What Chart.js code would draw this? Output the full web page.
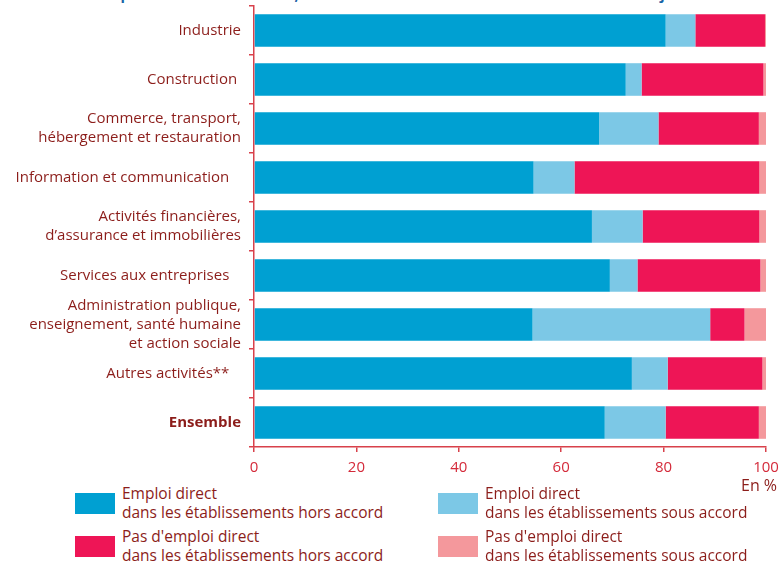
<!DOCTYPE html>
<html lang="fr">
<head>
<meta charset="utf-8">
<title>OETH 2010 par secteur</title>
<script src="https://cdn.jsdelivr.net/npm/chart.js@4/dist/chart.umd.min.js"></script>
<style>
    body { margin: 0; background: #fff; font-family: "Open Sans", sans-serif; }
    #page { position: relative; width: 784px; height: 565px; overflow: hidden; }
    #titre { position: absolute; left: 8px; top: -15px; white-space: nowrap; font-weight: bold; font-size: 14.5px; color: #1a64a6; }
    #zone { position: absolute; left: 0; top: 0; width: 784px; height: 480px; }
    #unite { position: absolute; left: 741px; top: 474px; font-size: 16px; color: #8c1d1a; }
    .leg { position: absolute; font-size: 15.5px; line-height: 19px; color: #8c1d1a; }
    .leg i { position: absolute; left: -47px; top: 9px; width: 40px; height: 21px; }
</style>
</head>
<body>
<div id="page">
    <div id="titre">modalités de réponse à l'OETH en 2010*, selon le secteur d'activité de l'établissement assujetti</div>
    <div id="zone"><canvas id="grafico" width="784" height="480"></canvas></div>
    <div id="unite">En %</div>
    <div class="leg" style="left:122px;top:484px"><i style="background:#00a0d2"></i>Emploi direct<br>dans les établissements hors accord</div>
    <div class="leg" style="left:485px;top:484px"><i style="background:#7cc8e6"></i>Emploi direct<br>dans les établissements sous accord</div>
    <div class="leg" style="left:122px;top:527px"><i style="background:#ee1556"></i>Pas d'emploi direct<br>dans les établissements hors accord</div>
    <div class="leg" style="left:485px;top:527px"><i style="background:#f4989c"></i>Pas d'emploi direct<br>dans les établissements sous accord</div>
</div>
<script>
// secteurs (axe vertical)
const secteurs = [
    "Industrie",
    "Construction ",
    ["Commerce, transport,", "hébergement et restauration"],
    "Information et communication   ",
    ["Activités financières,", "d\u2019assurance et immobilières"],
    "Services aux entreprises   ",
    ["Administration publique,", "enseignement, santé humaine", "et action sociale"],
    "Autres activités**   ",
    "Ensemble"
];
// en %
const directHors = [80.4, 72.6, 67.4, 54.6, 66.0, 69.5, 54.4, 73.8, 68.5];
const directSous = [5.8, 3.1, 11.6, 8.0, 9.9, 5.4, 34.7, 7.0, 11.9];
const pasDirectHors = [13.6, 23.8, 19.6, 36.1, 22.8, 24.0, 6.7, 18.5, 18.2];
const pasDirectSous = [0.2, 0.5, 1.4, 1.3, 1.3, 1.1, 4.2, 0.7, 1.4];
const ticksX = [0, 20, 40, 60, 80, 100];

const rougeAxe = "#d8414b";
const brun = "#8c1d1a";

const ctx = document.getElementById("grafico").getContext("2d");
const serie = (label, data, color) => ({
    label: label, data: data, backgroundColor: color,
    borderWidth: 0, barPercentage: 0.665, categoryPercentage: 1
});

new Chart(ctx, {
    type: "bar",
    data: {
        labels: secteurs,
        datasets: [
            serie("Emploi direct dans les établissements hors accord", directHors, "#00a0d2"),
            serie("Emploi direct dans les établissements sous accord", directSous, "#7cc8e6"),
            serie("Pas d'emploi direct dans les établissements hors accord", pasDirectHors, "#ee1556"),
            serie("Pas d'emploi direct dans les établissements sous accord", pasDirectSous, "#f4989c")
        ]
    },
    options: {
        indexAxis: "y",
        responsive: false,
        animation: false,
        layout: { padding: { top: 6, right: 18, left: 0, bottom: 0 } },
        plugins: { legend: { display: false }, tooltip: { enabled: false } },
        scales: {
            x: {
                stacked: true, min: 0, max: 100,
                afterBuildTicks: s => { s.ticks = ticksX.map(v => ({ value: v })); },
                afterFit: s => { s.height = 33; s.paddingLeft = 0; s.paddingRight = 0; },
                border: { display: true, color: rougeAxe, width: 1.5 },
                grid: { drawOnChartArea: false, drawTicks: true, tickLength: 5, color: rougeAxe, lineWidth: 1.5 },
                ticks: { color: "#d42a3a", padding: 7, font: { family: "Open Sans", size: 15 } }
            },
            y: {
                stacked: true,
                afterFit: s => { s.width = 254; s.paddingTop = 0; s.paddingBottom = 0; },
                border: { display: true, color: rougeAxe, width: 1.5 },
                grid: { offset: true, drawOnChartArea: false, drawTicks: true, tickLength: 5, color: rougeAxe, lineWidth: 1.5 },
                ticks: {
                    color: brun, padding: 8, autoSkip: false,
                    font: c => ({ family: "Open Sans", size: 15, weight: c.index === 8 ? "bold" : "normal", lineHeight: 1.25 })
                }
            }
        }
    }
});
</script>
</body>
</html>
